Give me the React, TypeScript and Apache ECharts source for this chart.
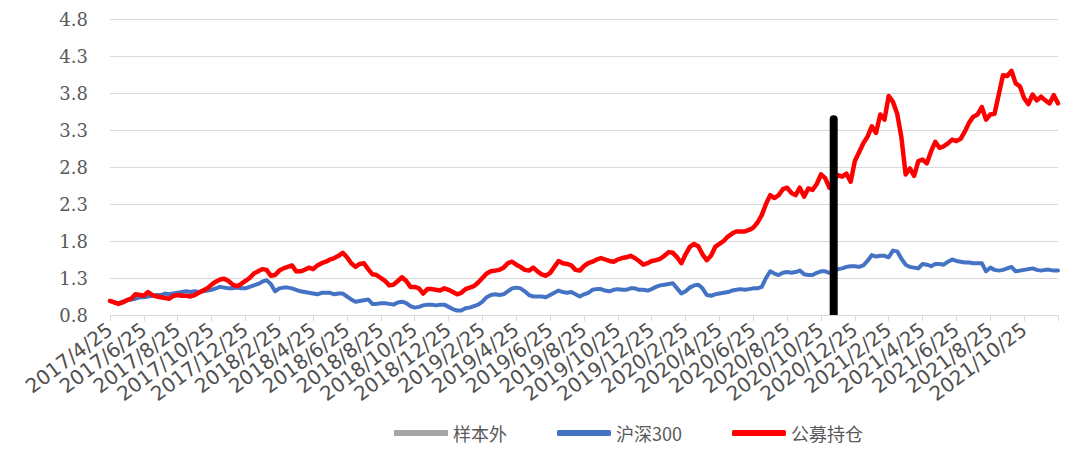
import React, { useEffect, useRef } from "react";
import * as echarts from "echarts";

// Tick labels every 8 data steps on the x axis (index 0..224)
const tickLabels = [
  "2017/4/25", "2017/6/25", "2017/8/25", "2017/10/25", "2017/12/25",
  "2018/2/25", "2018/4/25", "2018/6/25", "2018/8/25", "2018/10/25", "2018/12/25",
  "2019/2/25", "2019/4/25", "2019/6/25", "2019/8/25", "2019/10/25", "2019/12/25",
  "2020/2/25", "2020/4/25", "2020/6/25", "2020/8/25", "2020/10/25", "2020/12/25",
  "2021/2/25", "2021/4/25", "2021/6/25", "2021/8/25", "2021/10/25",
];

const seriesNames = ["样本外", "沪深300", "公募持仓"];

// 沪深300
const hs300 = [
  0.99, 0.97, 0.96, 0.98, 1.00, 1.01, 1.02, 1.04, 1.04, 1.05,
  1.06, 1.07, 1.07, 1.09, 1.08, 1.09, 1.10, 1.11, 1.12, 1.11,
  1.12, 1.11, 1.12, 1.13, 1.14, 1.16, 1.18, 1.17, 1.16, 1.16,
  1.17, 1.16, 1.16, 1.18, 1.20, 1.22, 1.25, 1.27, 1.22, 1.12,
  1.16, 1.17, 1.17, 1.16, 1.14, 1.12, 1.11, 1.10, 1.09, 1.08,
  1.10, 1.10, 1.10, 1.08, 1.09, 1.09, 1.05, 1.01, 0.98, 0.99,
  1.00, 1.01, 0.95, 0.95, 0.96, 0.96, 0.95, 0.94, 0.97, 0.98,
  0.96, 0.92, 0.90, 0.91, 0.93, 0.94, 0.94, 0.93, 0.94, 0.94,
  0.91, 0.88, 0.86, 0.86, 0.89, 0.90, 0.92, 0.94, 0.98, 1.04,
  1.07, 1.08, 1.07, 1.08, 1.12, 1.16, 1.17, 1.16, 1.12, 1.07,
  1.05, 1.05, 1.05, 1.04, 1.07, 1.10, 1.13, 1.11, 1.10, 1.11,
  1.08, 1.05, 1.08, 1.10, 1.14, 1.15, 1.15, 1.13, 1.12, 1.14,
  1.15, 1.14, 1.14, 1.16, 1.16, 1.14, 1.14, 1.13, 1.15, 1.18,
  1.20, 1.21, 1.22, 1.23, 1.16, 1.09, 1.12, 1.17, 1.20, 1.21,
  1.16, 1.07, 1.06, 1.08, 1.09, 1.10, 1.11, 1.13, 1.14, 1.15,
  1.14, 1.15, 1.16, 1.16, 1.18, 1.30, 1.39, 1.36, 1.34, 1.37,
  1.38, 1.37, 1.38, 1.40, 1.35, 1.34, 1.34, 1.37, 1.39, 1.39,
  1.37, 1.38, 1.42, 1.43, 1.45, 1.46, 1.46, 1.45, 1.47, 1.53,
  1.61, 1.59, 1.60, 1.60, 1.58, 1.67, 1.66, 1.56, 1.48, 1.45,
  1.44, 1.43, 1.49, 1.48, 1.46, 1.49, 1.49, 1.48, 1.52, 1.55,
  1.53, 1.52, 1.51, 1.51, 1.50, 1.50, 1.50, 1.39, 1.44, 1.41,
  1.40, 1.41, 1.43, 1.45, 1.39, 1.40, 1.41, 1.42, 1.43, 1.41,
  1.40, 1.41, 1.41, 1.40, 1.40,
];

// 公募持仓
const fundHold = [
  0.99, 0.97, 0.95, 0.97, 1.00, 1.02, 1.08, 1.07, 1.06, 1.11,
  1.07, 1.05, 1.04, 1.03, 1.02, 1.06, 1.07, 1.06, 1.06, 1.05,
  1.07, 1.10, 1.13, 1.16, 1.21, 1.25, 1.28, 1.29, 1.26, 1.21,
  1.19, 1.22, 1.26, 1.30, 1.36, 1.39, 1.42, 1.41, 1.33, 1.34,
  1.40, 1.43, 1.45, 1.47, 1.39, 1.39, 1.41, 1.44, 1.42, 1.47,
  1.50, 1.52, 1.55, 1.57, 1.60, 1.64, 1.58, 1.50, 1.45, 1.49,
  1.50, 1.42, 1.35, 1.34, 1.30, 1.26, 1.20, 1.21, 1.26, 1.31,
  1.26, 1.18, 1.18, 1.16, 1.09, 1.15, 1.15, 1.14, 1.13, 1.16,
  1.14, 1.11, 1.08, 1.10, 1.15, 1.17, 1.19, 1.24, 1.30, 1.36,
  1.39, 1.40, 1.41, 1.44, 1.50, 1.52, 1.48, 1.45, 1.41, 1.40,
  1.44, 1.39, 1.35, 1.33, 1.37, 1.45, 1.53, 1.50, 1.49, 1.47,
  1.41, 1.40, 1.46, 1.50, 1.52, 1.55, 1.57, 1.55, 1.53, 1.52,
  1.55, 1.57, 1.58, 1.60, 1.57, 1.53, 1.48, 1.50, 1.53, 1.54,
  1.56, 1.60, 1.65, 1.64, 1.58, 1.50, 1.62, 1.72, 1.76, 1.73,
  1.62, 1.54, 1.60, 1.72, 1.76, 1.80, 1.86, 1.90, 1.93, 1.93,
  1.93, 1.95, 1.98, 2.05, 2.15, 2.30, 2.42, 2.38, 2.42, 2.50,
  2.52, 2.45, 2.42, 2.52, 2.40, 2.51, 2.49, 2.57, 2.70, 2.65,
  2.52, 2.62, 2.69, 2.67, 2.71, 2.60, 2.88, 3.00, 3.12, 3.21,
  3.35, 3.26, 3.51, 3.44, 3.76, 3.68, 3.52, 3.20, 2.70, 2.78,
  2.68, 2.88, 2.90, 2.85, 3.01, 3.14, 3.06, 3.08, 3.12, 3.17,
  3.15, 3.18, 3.28, 3.40, 3.48, 3.51, 3.61, 3.44, 3.51, 3.52,
  3.78, 4.04, 4.03, 4.10, 3.93, 3.89, 3.73, 3.65, 3.78, 3.70,
  3.75, 3.70, 3.66, 3.77, 3.66,
];

// 样本外 marker bar: position index and height
const outSampleIndex = [171];
const outSampleValue = [3.5];

const App: React.FC = () => {
  const ref = useRef<HTMLDivElement>(null);

  useEffect(() => {
    document.body.style.margin = "0";
    if (!ref.current) return;
    const chart = echarts.init(ref.current, undefined, { renderer: "svg" });
    const lastIndex = tickLabels.length * 8;
    const option = {
      animation: false,
      backgroundColor: "#ffffff",
      grid: { left: 110, right: 16, top: 19, bottom: 138, containLabel: false },
      legend: {
        left: 389,
        top: 419,
        itemWidth: 54,
        itemHeight: 6,
        itemGap: 50,
        textStyle: {
          fontSize: 18,
          color: "#595959",
          fontFamily: "'Noto Sans CJK SC', sans-serif",
        },
        data: [
          { name: seriesNames[0], icon: "rect", itemStyle: { color: "#A5A5A5" } },
          { name: seriesNames[1], icon: "roundRect", itemStyle: { color: "#4472C4" } },
          { name: seriesNames[2], icon: "roundRect", itemStyle: { color: "#FF0000" } },
        ],
      },
      xAxis: {
        type: "value",
        min: 0,
        max: lastIndex,
        interval: 8,
        splitLine: { show: false },
        axisLine: { show: true, onZero: false, lineStyle: { color: "#D9D9D9", width: 1 } },
        axisTick: { show: true, length: 6, lineStyle: { color: "#D9D9D9" } },
        axisLabel: {
          rotate: 37,
          margin: 12,
          fontSize: 20,
          color: "#505050",
          fontFamily: "'DejaVu Sans', sans-serif",
          showMinLabel: true,
          showMaxLabel: true,
          formatter: (v: number) => tickLabels[Math.round(v / 8)] ?? "",
        },
      },
      yAxis: {
        type: "value",
        min: 0.8,
        max: 4.8,
        interval: 0.5,
        axisLine: { show: false },
        axisTick: { show: false },
        splitLine: { lineStyle: { color: "#D9D9D9", width: 1 } },
        axisLabel: {
          margin: 22,
          fontSize: 18,
          color: "#595959",
          fontFamily: "'DejaVu Serif', serif",
          formatter: (v: number) => v.toFixed(1),
        },
      },
      series: [
        {
          name: seriesNames[0],
          type: "bar",
          barWidth: 8,
          z: 5,
          clip: true,
          itemStyle: { color: "#A5A5A5" },
          data: outSampleIndex.map((x, k) => ({
            value: [x, outSampleValue[k]],
            itemStyle: { color: "#000000", borderRadius: [4, 4, 0, 0] },
          })),
        },
        {
          name: seriesNames[1],
          type: "line",
          showSymbol: false,
          symbol: "none",
          z: 2,
          itemStyle: { color: "#4472C4" },
          lineStyle: { color: "#4472C4", width: 4, cap: "round", join: "round" },
          data: hs300.map((v, i) => [i, v]),
        },
        {
          name: seriesNames[2],
          type: "line",
          showSymbol: false,
          symbol: "none",
          z: 3,
          itemStyle: { color: "#FF0000" },
          lineStyle: { color: "#FF0000", width: 4.5, cap: "round", join: "round" },
          data: fundHold.map((v, i) => [i, v]),
        },
      ],
    };
    chart.setOption(option as any);
    return () => {
      chart.dispose();
    };
  }, []);

  return <div ref={ref} style={{ width: 1074, height: 453 }} />;
};

export default App;
